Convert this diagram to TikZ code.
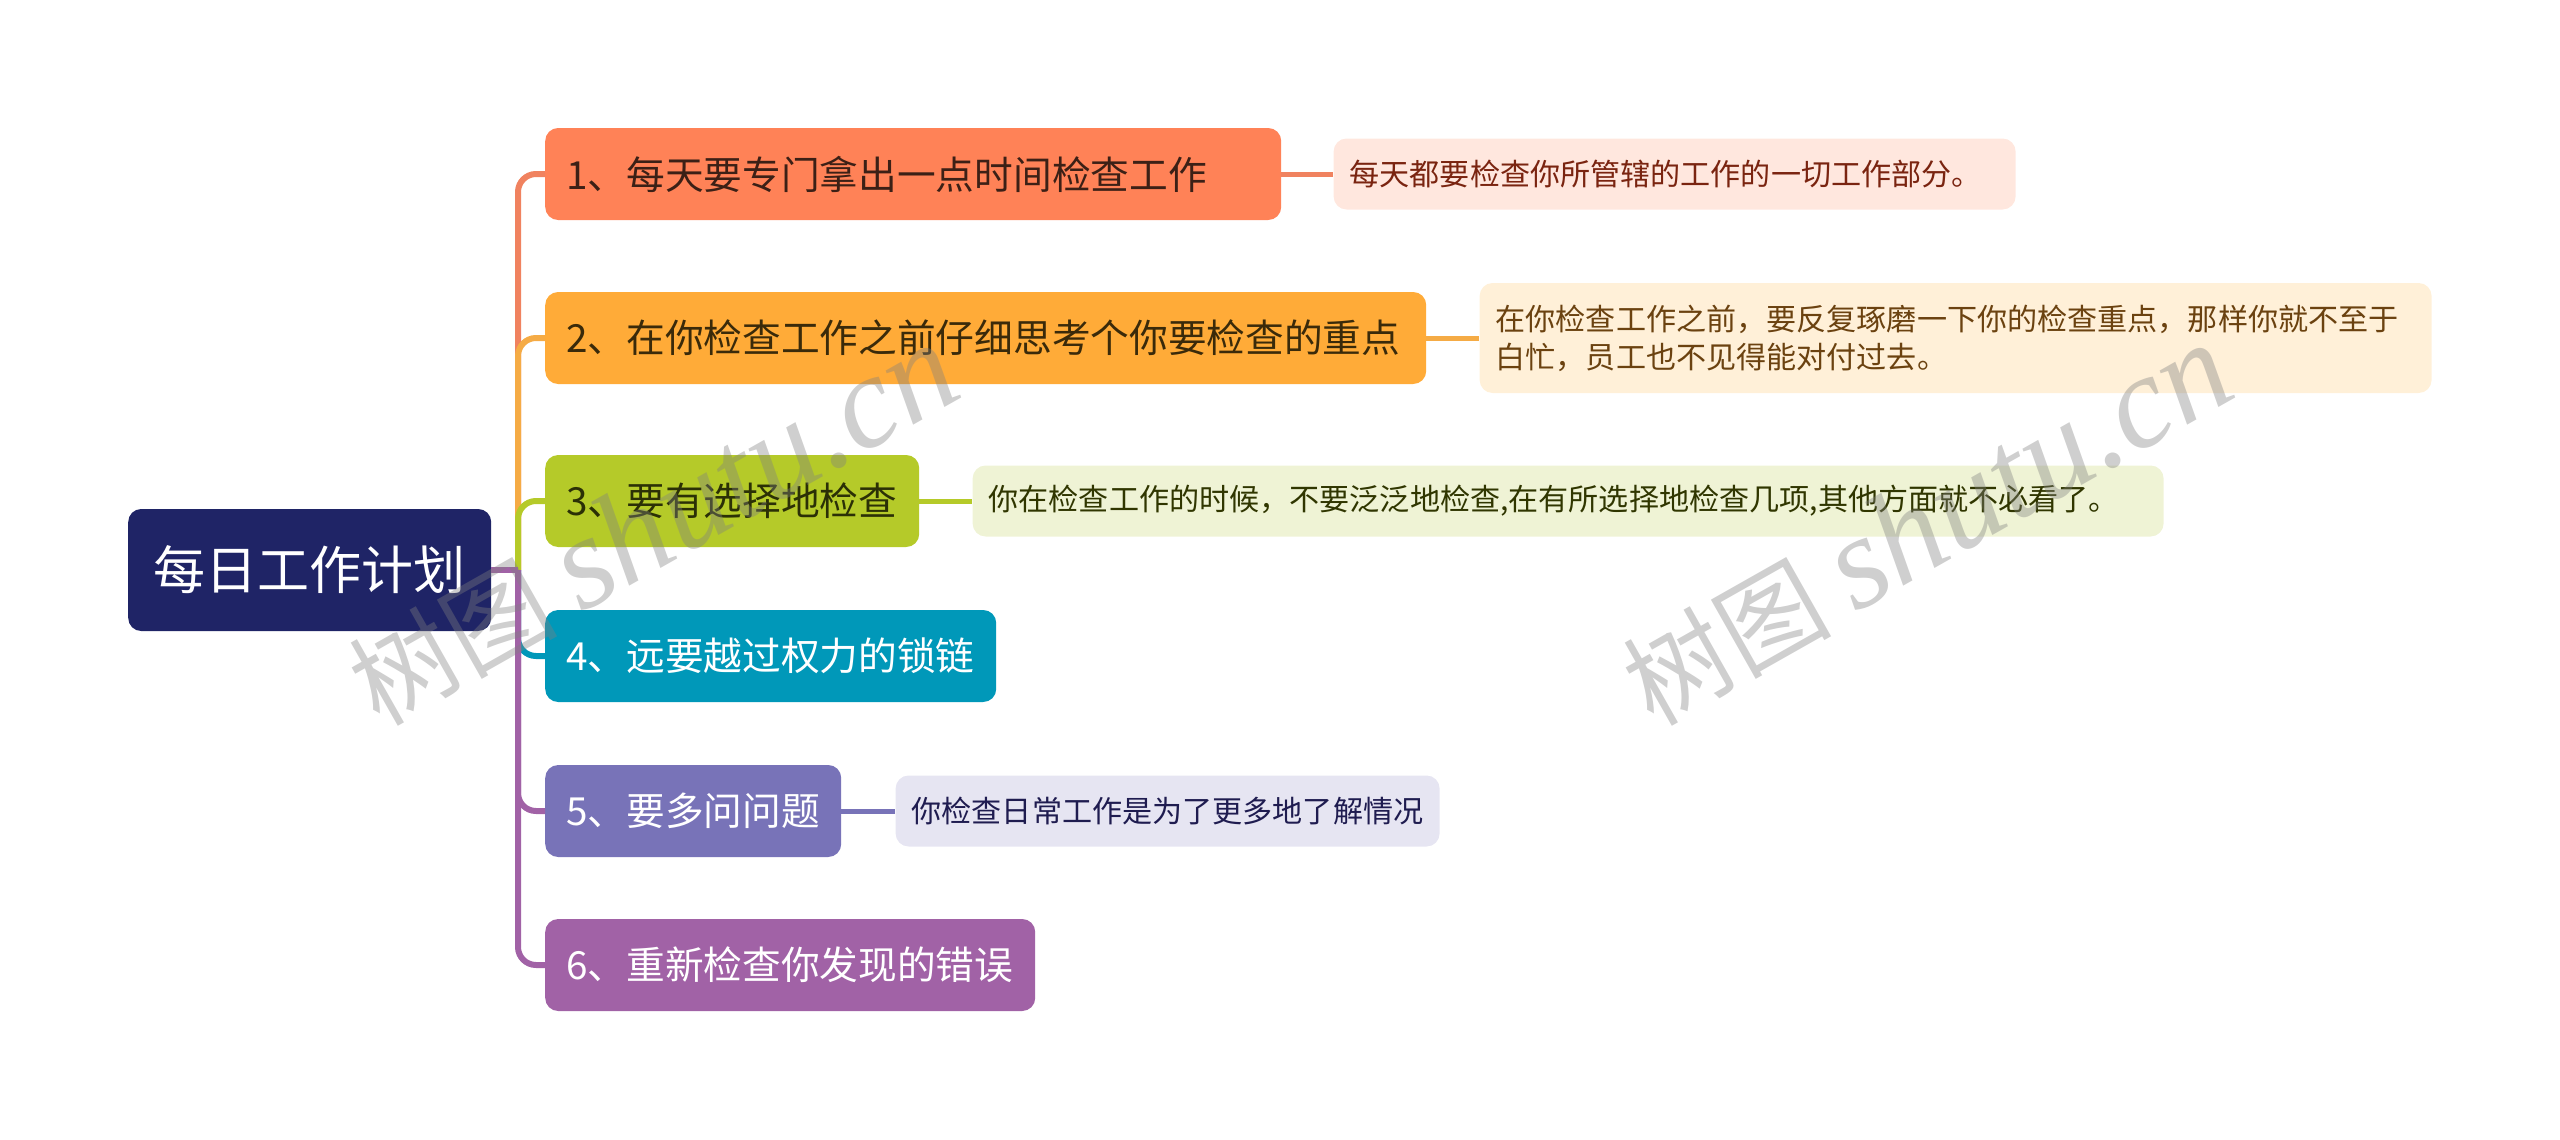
\documentclass[tikz,border=0pt]{standalone}
\usepackage{fontspec}
\usepackage{tikz}
\usetikzlibrary{positioning}
\setmainfont{Noto Sans CJK SC}
\newfontfamily\markfont{Liberation Serif}

\definecolor{rootfill}{HTML}{1F2466}
\definecolor{fillA}{HTML}{FF8257}
\definecolor{fillB}{HTML}{FFAB38}
\definecolor{fillC}{HTML}{B5CA29}
\definecolor{fillD}{HTML}{0098B9}
\definecolor{fillE}{HTML}{7873B8}
\definecolor{fillF}{HTML}{A162A6}
\definecolor{lineA}{HTML}{F0825F}
\definecolor{lineB}{HTML}{F5AB45}
\definecolor{paleA}{HTML}{FFE7DE}
\definecolor{paleB}{HTML}{FFF0D8}
\definecolor{paleC}{HTML}{EFF3D5}
\definecolor{paleE}{HTML}{E6E5F2}
\definecolor{inkA}{HTML}{7A2410}
\definecolor{inkB}{HTML}{6B4210}
\definecolor{inkC}{HTML}{303600}
\definecolor{inkE}{HTML}{1F1C50}
\definecolor{darkA}{HTML}{3C2016}
\definecolor{darkB}{HTML}{3A2A0A}
\definecolor{darkC}{HTML}{2B3006}

\begin{document}
\begin{tikzpicture}[x=1pt,y=-1pt]
					\tikzstyle{root}=[rounded corners=13pt,fill=rootfill,text=white,anchor=west,minimum height=122pt,inner xsep=25.5pt,font=\fontsize{52}{60}\selectfont]
					\tikzstyle{topic}=[rounded corners=13pt,anchor=west,minimum height=92pt,inner xsep=21pt,align=left,font=\fontsize{38.7}{46}\selectfont,text width=#1]
					\tikzstyle{leaf}=[rounded corners=13pt,minimum height=71pt,inner xsep=16pt,align=left,font=\fontsize{30.1}{38}\selectfont,text width=#1]
					\tikzstyle{branch}=[line width=6pt,rounded corners=18pt]
					\tikzstyle{twig}=[line width=5pt]
					\tikzstyle{watermark}=[rotate=29.5,text=gray,text opacity=.38,font=\fontsize{104}{126}\selectfont]
					\useasboundingbox (0,0) rectangle (2560,1140);

					\node[root] (plan) at (128,570) {每日工作计划};
					\coordinate (trunk) at (518,570);

					\node[topic=694pt,fill=fillA,text=darkA] (n1) at (545,174) {1、每天要专门拿出一点时间检查工作};
					\node[topic=839pt,fill=fillB,text=darkB] (n2) at (545,338) {2、在你检查工作之前仔细思考个你要检查的重点};
					\node[topic=332pt,fill=fillC,text=darkC] (n3) at (545,501) {3、要有选择地检查};
					\node[topic=409pt,fill=fillD,text=white] (n4) at (545,656) {4、远要越过权力的锁链};
					\node[topic=254pt,fill=fillE,text=white] (n5) at (545,811) {5、要多问问题};
					\node[topic=448pt,fill=fillF,text=white] (n6) at (545,965) {6、重新检查你发现的错误};

					\node[leaf=650pt,fill=paleA,text=inkA,right=52pt of n1] (l1) {每天都要检查你所管辖的工作的一切工作部分。};
					\node[leaf=920pt,fill=paleB,text=inkB,minimum height=110pt,right=53pt of n2] (l2) {在你检查工作之前，要反复琢磨一下你的检查重点，那样你就不至于\\白忙，员工也不见得能对付过去。};
					\node[leaf=1159pt,fill=paleC,text=inkC,right=53pt of n3] (l3) {你在检查工作的时候，不要泛泛地检查,在有所选择地检查几项,其他方面就不必看了。};
					\node[leaf=512pt,fill=paleE,text=inkE,right=54pt of n5] (l5) {你检查日常工作是为了更多地了解情况};

					\foreach \n/\c in {n1/lineA,n2/lineB,n3/fillC,n4/fillD,n5/fillF,n6/fillF}
						\draw[branch,\c] (trunk) |- (\n.west);
					\draw[twig,fillF,line width=6pt] (plan.east) -- (trunk);

					\draw[twig,lineA] (n1) -- (l1);
					\draw[twig,lineB] (n2) -- (l2);
					\draw[twig,fillC] (n3) -- (l3);
					\draw[twig,fillE] (n5) -- (l5);

					\node[watermark] (wm1) at (653,525) {树图 {\markfont\itshape\fontsize{132}{126}\selectfont shutu.cn}};
					\node[watermark] (wm2) at (1927,525) {树图 {\markfont\itshape\fontsize{132}{126}\selectfont shutu.cn}};
\end{tikzpicture}
\end{document}
